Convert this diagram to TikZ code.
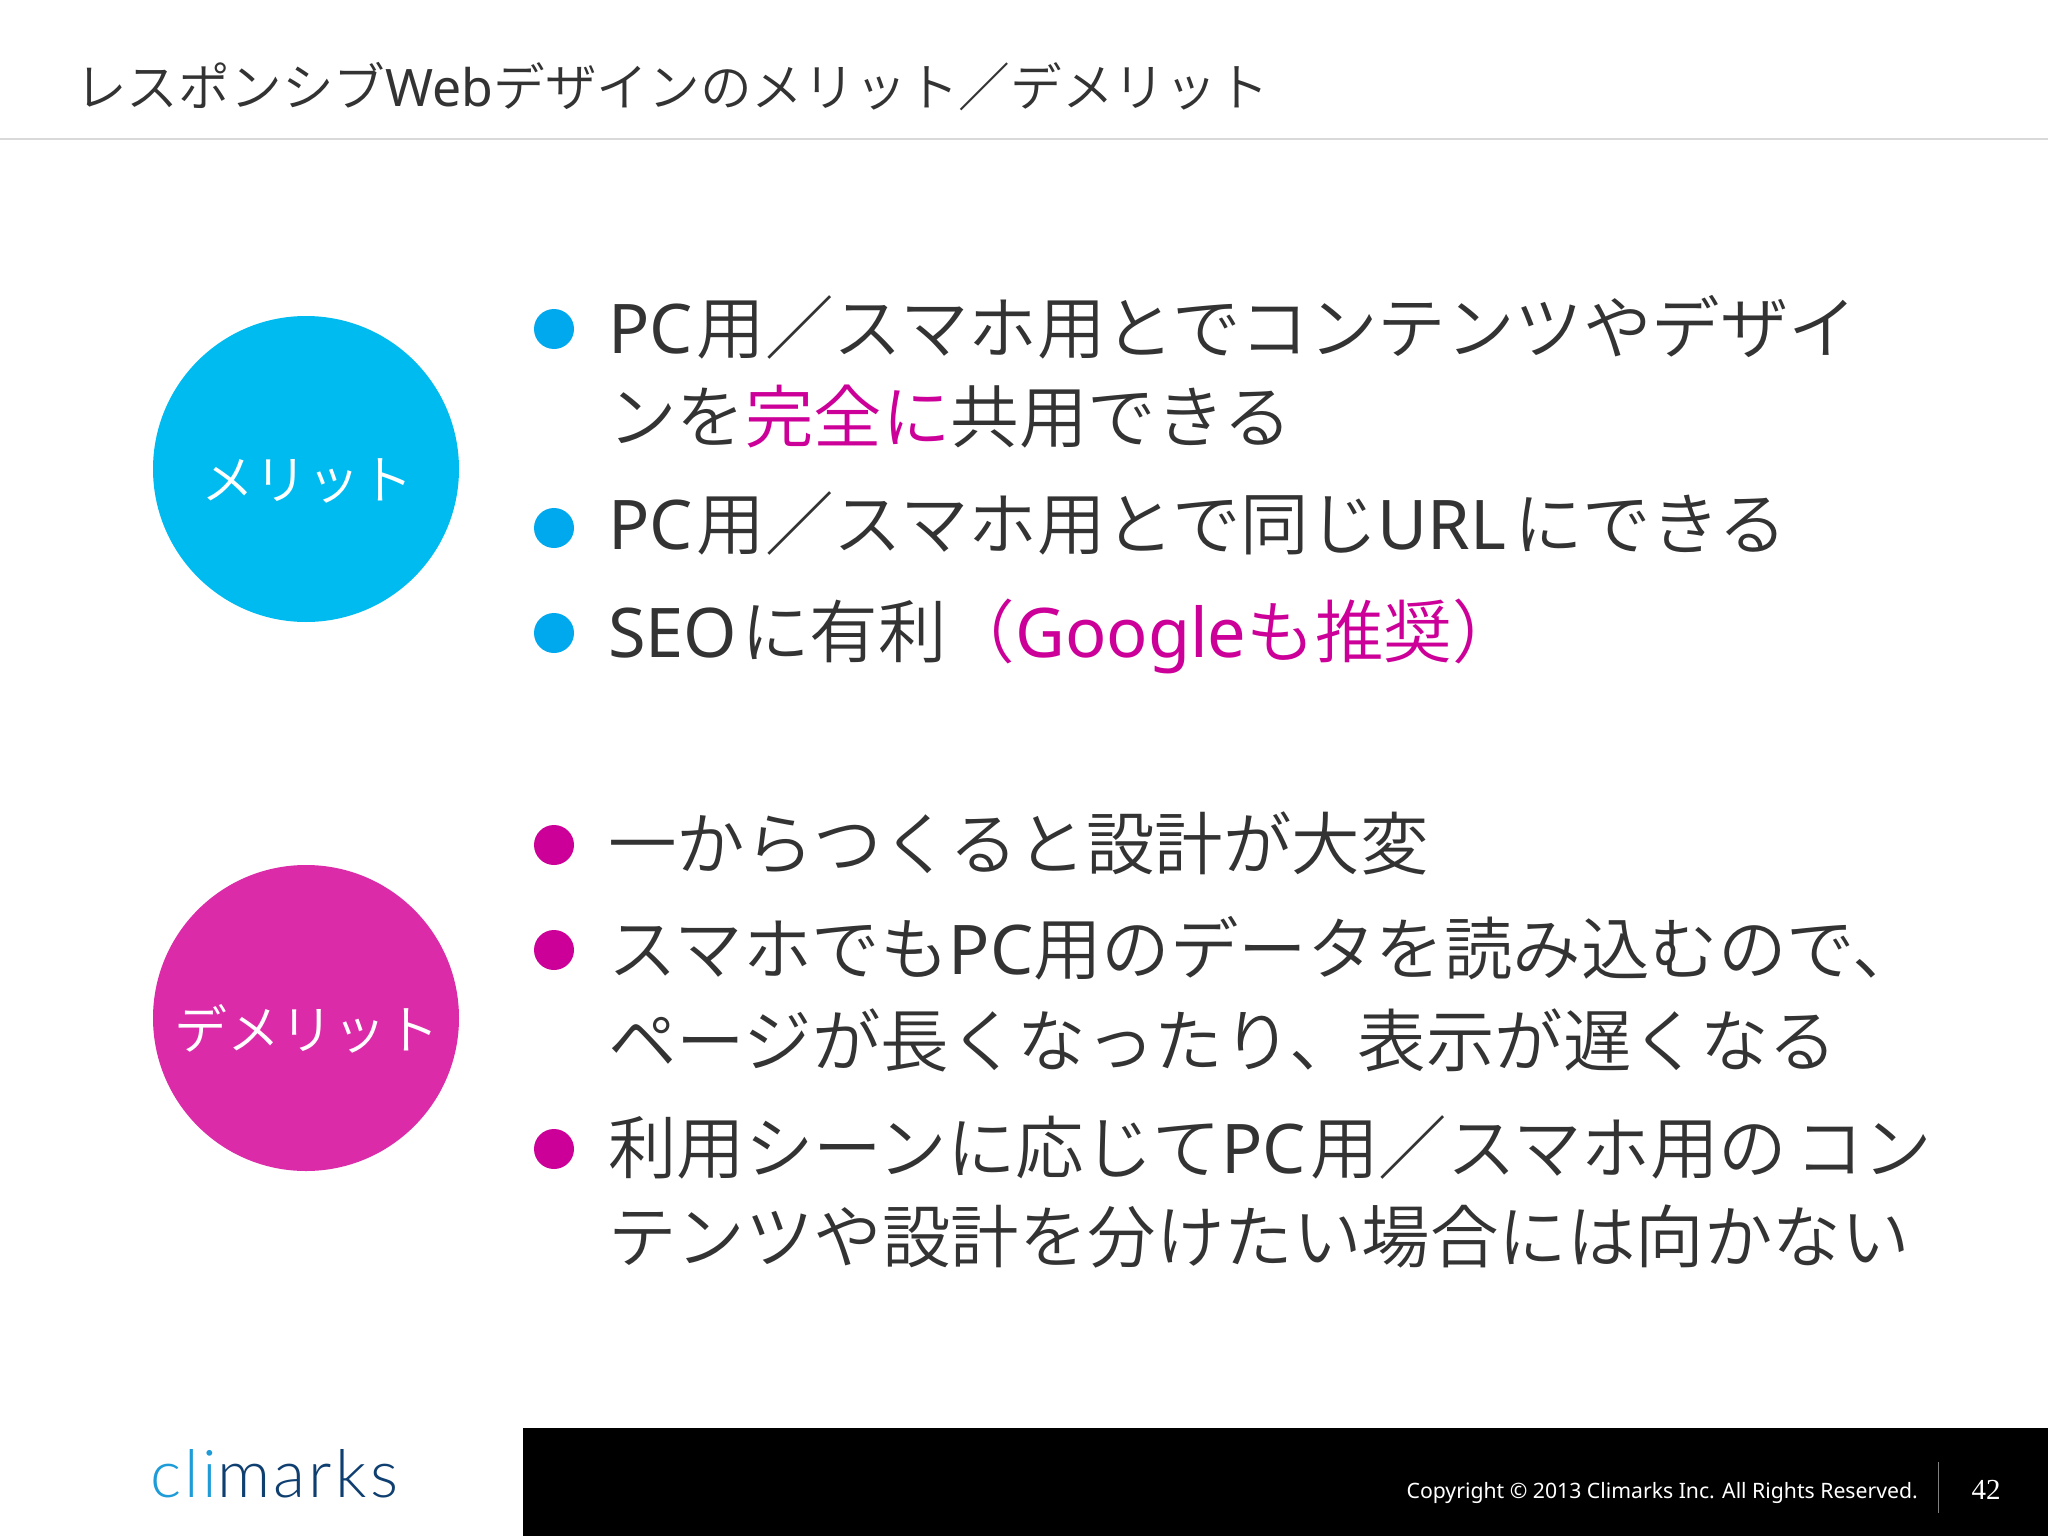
\documentclass[tikz,border=0pt]{standalone}
\usepackage{fontspec}
\setmainfont{Noto Sans CJK JP DemiLight}
\newfontfamily\logofont[LetterSpace=5]{Lato Light}
\newfontfamily\copyfont{Noto Sans}
\newfontfamily\numfont{Liberation Serif}
\newfontfamily\latf{Noto Sans}
\newcommand{\lat}[1]{{\latf #1}}
\definecolor{ink}{HTML}{333333}
\definecolor{hot}{HTML}{CC0099}
\definecolor{sky}{HTML}{00A8EE}
\definecolor{circA}{HTML}{00BBF0}
\definecolor{circB}{HTML}{DB2BA8}
\definecolor{rulegray}{HTML}{D9D9D9}
\definecolor{logoA}{HTML}{1E9CD8}
\definecolor{logoB}{HTML}{0F3F70}
\tikzset{
  x=1pt,y=-1pt,
  bodytext/.style={anchor=base west,inner sep=0pt,text=ink,font=\fontsize{68.5}{80}\selectfont},
  dotA/.style={circle,fill=sky,minimum size=40pt,inner sep=0pt},
  dotB/.style={circle,fill=hot,minimum size=40pt,inner sep=0pt},
  labeltext/.style={inner sep=0pt,text=white,font=\fontsize{53}{60}\selectfont},
  bigdisc/.style={circle,minimum size=306pt,inner sep=0pt},
}
\begin{document}
\begin{tikzpicture}
\useasboundingbox (0,0) rectangle (2048,1536);
\fill[white] (0,0) rectangle (2048,1536);
\node[anchor=base west,inner sep=0pt,text=ink,font=\fontsize{51.7}{60}\selectfont] (title) at (75,107) {レスポンシブ\lat{Web}デザインのメリット／デメリット};
\draw[rulegray,line width=2pt] (0,139) -- (2048,139);
\node[bigdisc,fill=circA] (merit) at (306,469) {};
\node[bigdisc,fill=circB] (demerit) at (306,1018) {};
\node[labeltext] (meritlabel) at (307,481) {メリット};
\node[labeltext] (demeritlabel) at (307,1029) {デメリット};
\node[dotA] (b1) at (554,329) {};
\node[dotA] (b2) at (554,528) {};
\node[dotA] (b3) at (554,633) {};
\node[dotB] (b4) at (554,845) {};
\node[dotB] (b5) at (554,950) {};
\node[dotB] (b6) at (554,1149) {};
\node[bodytext] (t1) at (608,353) {\lat{PC}\kern4pt 用／スマホ用とでコンテンツやデザイ};
\node[bodytext] (t2) at (608,442) {ンを\textcolor{hot}{完全に}共用できる};
\node[bodytext] (t3) at (608,549) {\lat{PC}\kern4pt 用／スマホ用とで同じ\lat{URL}\kern8pt にできる};
\node[bodytext] (t4) at (608,657) {\lat{SEO}\kern4pt に有利\textcolor{hot}{（\lat{Google}も推奨）}};
\node[bodytext] (t5) at (608,869) {一からつくると設計が大変};
\node[bodytext] (t6) at (608,974) {スマホでも\lat{PC}用のデータを読み込むので、};
\node[bodytext] (t7) at (608,1066) {ページが長くなったり、表示が遅くなる};
\node[bodytext] (t8) at (608,1173) {利用シーンに応じて\lat{PC}\kern4pt 用／スマホ用の\kern8pt コン};
\node[bodytext] (t9) at (608,1262) {テンツや設計を分けたい場合には向かない};
\fill[black] (523,1428) rectangle (2048,1536);
\node[anchor=base west,inner sep=0pt,font=\logofont\fontsize{66}{70}\selectfont] (logo) at (150,1497) {\textcolor{logoA}{cli}\textcolor{logoB}{marks}};
\node[anchor=base east,inner sep=0pt,text=white,font=\copyfont\fontsize{21.2}{24}\selectfont] (copy) at (1918,1498) {Copyright © 2013 Climarks Inc. All Rights Reserved.};
\draw[gray,line width=1pt] (1938,1462) -- (1938,1513);
\node[inner sep=0pt,text=white,font=\numfont\fontsize{29}{30}\selectfont] (pg) at (1986,1490) {42};
\end{tikzpicture}
\end{document}
